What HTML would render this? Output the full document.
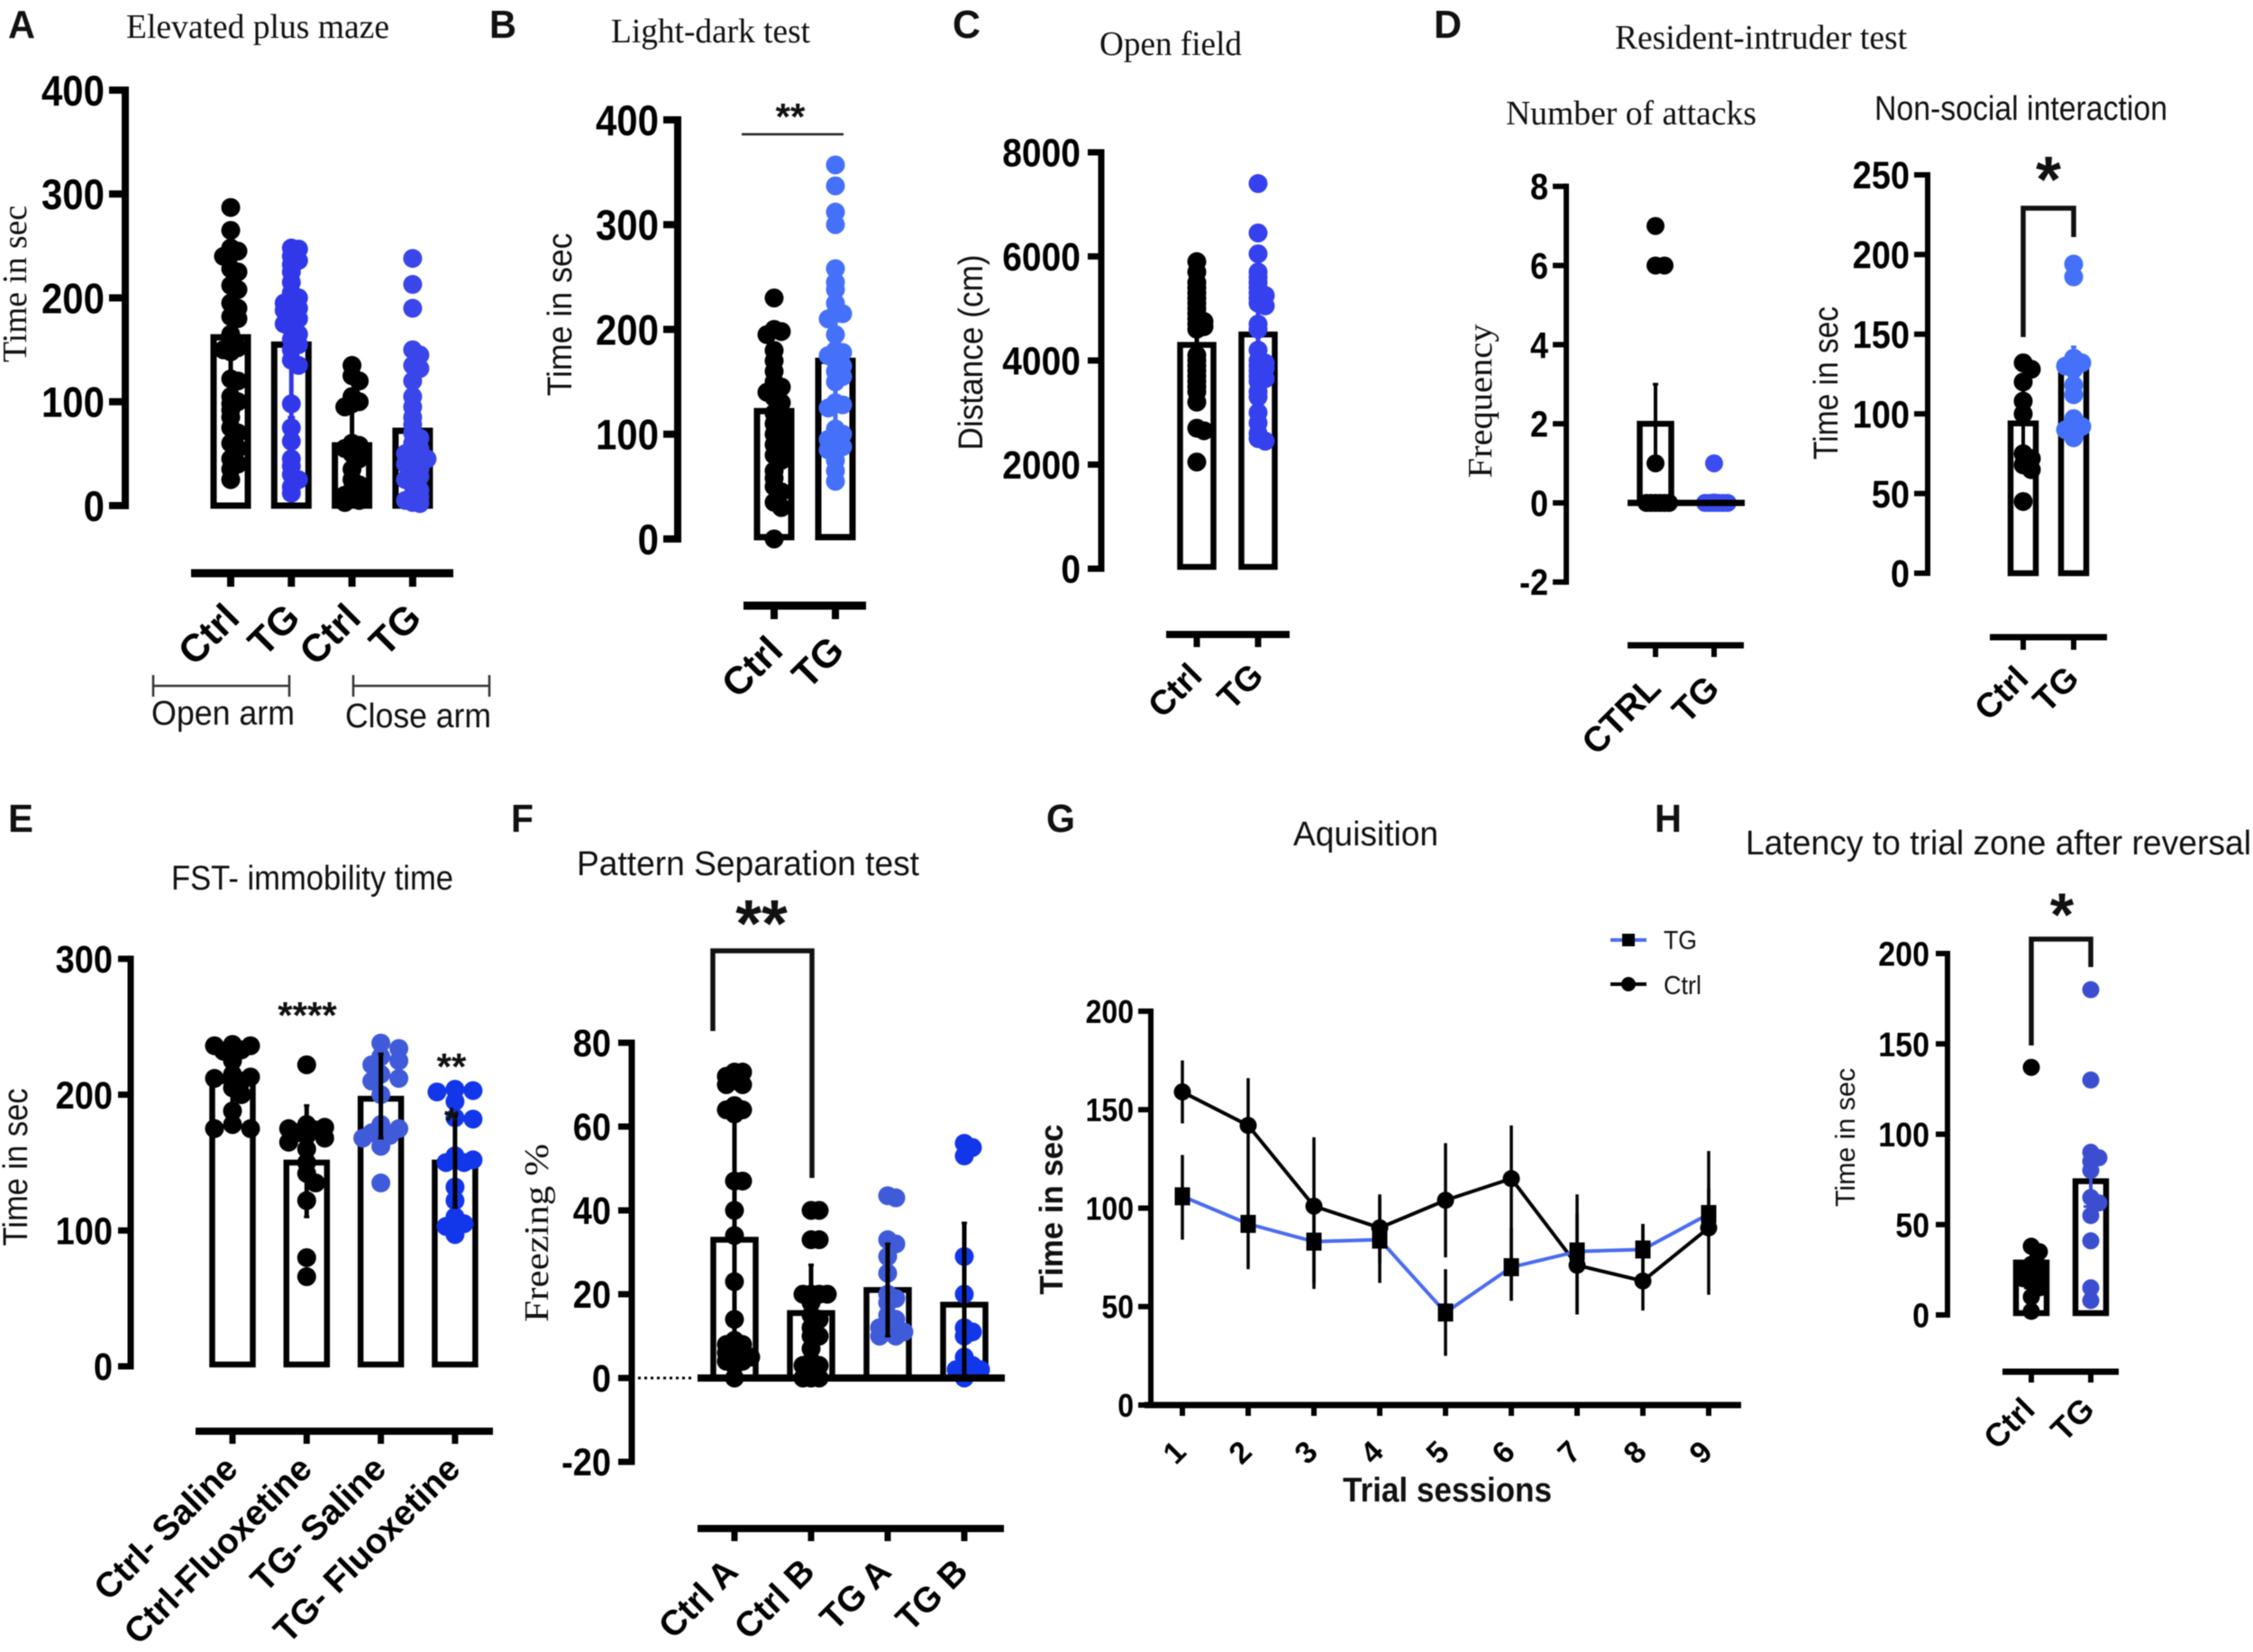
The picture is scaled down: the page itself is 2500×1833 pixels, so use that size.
<!DOCTYPE html>
<html lang="en">
<head>
<meta charset="utf-8">
<title>Behavioural test panels</title>
<style>
html,body{margin:0;padding:0;background:#fff;}
svg{display:block;font-family:"Liberation Sans",sans-serif;filter:blur(0.6px);}
.serif{font-family:"Liberation Serif",serif;}
</style>
</head>
<body>
<svg id="figure" width="2500" height="1833" viewBox="0 0 2500 1833" xmlns="http://www.w3.org/2000/svg">
<rect width="2500" height="1833" fill="#fff"/>
<g font-weight="bold" font-size="44" fill="#111">
<text x="9" y="42" textLength="30" lengthAdjust="spacingAndGlyphs">A</text>
<text x="543" y="42" textLength="30" lengthAdjust="spacingAndGlyphs">B</text>
<text x="1057" y="42" textLength="31" lengthAdjust="spacingAndGlyphs">C</text>
<text x="1591" y="42" textLength="31" lengthAdjust="spacingAndGlyphs">D</text>
<text x="9" y="923" textLength="28" lengthAdjust="spacingAndGlyphs">E</text>
<text x="567" y="923" textLength="25" lengthAdjust="spacingAndGlyphs">F</text>
<text x="1161" y="923" textLength="32" lengthAdjust="spacingAndGlyphs">G</text>
<text x="1836" y="923" textLength="30" lengthAdjust="spacingAndGlyphs">H</text>
</g>
<g fill="#111" font-size="38">
<text class="serif" x="140" y="42" textLength="292" lengthAdjust="spacingAndGlyphs">Elevated plus maze</text>
<text class="serif" x="678" y="47" textLength="221" lengthAdjust="spacingAndGlyphs">Light-dark test</text>
<text class="serif" x="1220" y="61" textLength="158" lengthAdjust="spacingAndGlyphs">Open field</text>
<text class="serif" x="1792" y="54" textLength="324" lengthAdjust="spacingAndGlyphs">Resident-intruder test</text>
<text class="serif" x="1671" y="138" textLength="278" lengthAdjust="spacingAndGlyphs">Number of attacks</text>
<text x="2080" y="133" textLength="325" lengthAdjust="spacingAndGlyphs">Non-social interaction</text>
<text x="190" y="987" textLength="313" lengthAdjust="spacingAndGlyphs">FST- immobility time</text>
<text x="640" y="971" textLength="380" lengthAdjust="spacingAndGlyphs">Pattern Separation test</text>
<text x="1435" y="938" textLength="161" lengthAdjust="spacingAndGlyphs">Aquisition</text>
<text x="1937" y="948" textLength="561" lengthAdjust="spacingAndGlyphs">Latency to trial zone after reversal</text>
</g>
<g fill="#111" text-anchor="middle" font-size="38">
<text class="serif" transform="translate(29 315) rotate(-90)" textLength="174" lengthAdjust="spacingAndGlyphs">Time in sec</text>
<text transform="translate(634 349) rotate(-90)" textLength="181" lengthAdjust="spacingAndGlyphs">Time in sec</text>
<text transform="translate(1090 391) rotate(-90)" textLength="217" lengthAdjust="spacingAndGlyphs">Distance (cm)</text>
<text class="serif" transform="translate(1655 445) rotate(-90)" textLength="171" lengthAdjust="spacingAndGlyphs">Frequency</text>
<text transform="translate(2039 425) rotate(-90)" textLength="170" lengthAdjust="spacingAndGlyphs">Time in sec</text>
<text transform="translate(30 1295) rotate(-90)" textLength="175" lengthAdjust="spacingAndGlyphs">Time in sec</text>
<text class="serif" transform="translate(608 1368) rotate(-90)" textLength="198" lengthAdjust="spacingAndGlyphs">Freezing %</text>
<text font-weight="bold" font-size="36" transform="translate(1179 1342) rotate(-90)" textLength="189" lengthAdjust="spacingAndGlyphs">Time in sec</text>
<text font-size="31" transform="translate(2058 1262) rotate(-90)" textLength="154" lengthAdjust="spacingAndGlyphs">Time in sec</text>
</g>
<text x="1490" y="1666" font-weight="bold" font-size="38" fill="#111" textLength="232" lengthAdjust="spacingAndGlyphs">Trial sessions</text>
<g fill="none" stroke="#333" stroke-width="2.5">
<path d="M170 761H321M170 749V773M321 749V773"/>
<path d="M392 761H543M392 749V773M543 749V773"/>
<path d="M823 149H936" stroke="#222"/>
</g>
<g fill="#111" font-size="38">
<text x="168" y="804" textLength="159" lengthAdjust="spacingAndGlyphs">Open arm</text>
<text x="383" y="807" textLength="162" lengthAdjust="spacingAndGlyphs">Close arm</text>
</g>
<g id="plots"></g>
<g fill="none" stroke="#111" stroke-width="5.5">
<path d="M2245 374V231H2301V263"/>
<path d="M791 1144V1055H901V1307"/>
<path d="M2254 1160V1042H2320V1073"/>
</g>
<g fill="#111" font-weight="bold" text-anchor="middle">
<text x="877" y="144" font-size="42">**</text>
<text x="2273" y="224" font-size="72">*</text>
<text x="341" y="1141" font-size="42">****</text>
<text x="501" y="1198" font-size="42">**</text>
<text x="501" y="1258" font-size="42">*</text>
<text x="845" y="1050" font-size="74">**</text>
<text x="2288" y="1038" font-size="68">*</text>
</g>
<g fill="#111" font-size="29">
<text x="1846" y="1053" textLength="37" lengthAdjust="spacingAndGlyphs">TG</text>
<text x="1846" y="1103" textLength="42" lengthAdjust="spacingAndGlyphs">Ctrl</text>
</g>
</svg>
<script>
/* ---------- Panel A ---------- */
const aCats = ['Ctrl', 'TG', 'Ctrl', 'TG'];
const aTicks = [0, 100, 200, 300, 400];
const aMeans = [162, 155, 58, 72];
const aErrLow = [60, 85, 20, 30];
const aErrHigh = [225, 225, 92, 115];
const aCtrlOpen = [287,265,248,245,242,240,228,225,212,208,195,190,182,180,165,155,152,150,148,122,120,105,100,98,92,85,75,70,60,55,45,40,35,25];
const aTgOpen = [248,247,240,236,232,225,215,205,200,198,195,192,190,188,185,180,178,175,170,165,160,155,150,140,135,98,75,62,45,38,30,25,18,12];
const aCtrlClose = [135,125,120,105,100,98,95,60,58,55,50,45,35,25,20,15,12,10,8,5,3];
const aTgClose = [238,213,190,150,145,135,132,120,105,95,85,78,70,65,60,55,52,50,48,45,45,42,40,38,35,30,28,25,20,15,10,8,5,3,2];
/* ---------- Panel B ---------- */
const bCats = ['Ctrl', 'TG'];
const bTicks = [0, 100, 200, 300, 400];
const bMeans = [122, 170];
const bErrLow = [60, 100];
const bErrHigh = [180, 240];
const bCtrl = [230,200,198,195,180,170,160,150,145,142,140,135,130,120,115,110,105,100,95,90,85,80,75,65,58,50,45,35,30,0];
const bTg = [357,337,312,300,258,245,238,225,215,215,210,195,180,178,175,170,165,160,155,150,130,128,125,105,100,98,95,90,88,85,75,65,55];
/* ---------- Panel C ---------- */
const cCats = ['Ctrl', 'TG'];
const cTicks = [0, 2000, 4000, 6000, 8000];
const cMeans = [4300, 4500];
const cErrLow = [3300, 3500];
const cErrHigh = [5300, 5500];
const cCtrl = [5900,5700,5500,5400,5300,5200,5100,5000,4900,4800,4750,4700,4650,4600,4100,4000,3900,3800,3700,3600,3500,3400,3200,2700,2650,2050];
const cTg = [7400,6450,6050,5700,5600,5500,5400,5300,5250,5200,5100,5050,4700,4600,4200,4000,3950,3900,3850,3800,3700,3650,3600,3400,3300,3000,2800,2600,2500,2450];
/* ---------- Panel D1 ---------- */
const d1Cats = ['CTRL', 'TG'];
const d1Ticks = [-2, 0, 2, 4, 6, 8];
const d1Means = [2, 0];
const d1ErrLow = [1, 0];
const d1ErrHigh = [3, 0.2];
const d1Ctrl = [7,6,6,1,0,0,0,0,0,0];
const d1Tg = [1,0,0,0,0,0,0];
/* ---------- Panel D2 ---------- */
const d2Cats = ['Ctrl', 'TG'];
const d2Ticks = [0, 50, 100, 150, 200, 250];
const d2Means = [94, 130];
const d2ErrLow = [70, 110];
const d2ErrHigh = [120, 142];
const d2Ctrl = [132,128,120,108,100,75,72,68,65,45];
const d2Tg = [194,186,135,132,130,128,118,112,97,92,90,85];
/* ---------- Panel E ---------- */
const eCats = ['Ctrl- Saline', 'Ctrl-Fluoxetine', 'TG- Saline', 'TG- Fluoxetine'];
const eTicks = [0, 100, 200, 300];
const eMeans = [210, 150, 197, 150];
const eErrLow = [190, 110, 168, 117];
const eErrHigh = [235, 192, 230, 185];
const eCtrlSaline = [237,236,236,233,232,225,215,213,212,210,205,200,188,178,175,175];
const eCtrlFluox = [222,178,176,175,174,172,170,168,165,160,150,142,135,122,80,66];
const eTgSaline = [238,234,228,225,222,215,212,210,200,178,175,172,170,168,162,135];
const eTgFluox = [204,203,202,195,183,182,155,152,150,150,132,122,110,105,103,97];
/* ---------- Panel F ---------- */
const fCats = ['Ctrl A', 'Ctrl B', 'TG A', 'TG B'];
const fTicks = [-20, 0, 20, 40, 60, 80];
const fMeans = [33, 15.5, 21, 17.5];
const fErrLow = [0, 3, 10, 0];
const fErrHigh = [63, 27, 32, 37];
const fCtrlA = [73,73,72,71,70,70,65,64,64,63,47,47,40,34,23,14,9,8,8,7,6,6,5,5,4,4,3,0];
const fCtrlB = [40,40,33,33,20,20,20,20,18,15,14,12,10,10,7,4,3,3,0,0,0];
const fTgA = [43.5,43,33,32,29,25,20,19,18,15,14,13,12,12,11,11,10,10];
const fTgB = [56,55,53,29,20,12,11,10,5,3,3,2,2,0];
/* ---------- Panel G ---------- */
const gSessions = ['1','2','3','4','5','6','7','8','9'];
const gTicks = [0, 50, 100, 150, 200];
const gCtrlMean = [159,142,101,90,104,115,71,63,90];
const gCtrlLow = [143,116,62,72,75,53,46,48,56];
const gCtrlHigh = [175,166,136,106,133,142,107,92,129];
const gTgMean = [106,92,83,84,47,70,78,79,97];
const gTgLow = [84,69,59,62,25,53,46,62,85];
const gTgHigh = [127,116,100,107,69,90,97,92,110];
/* ---------- Panel H ---------- */
const hCats = ['Ctrl', 'TG'];
const hTicks = [0, 50, 100, 150, 200];
const hMeans = [29, 74];
const hErrLow = [15, 60];
const hErrHigh = [40, 90];
const hCtrl = [137,38,35,28,27,25,24,22,20,18,15,10,2];
const hTg = [180,130,90,87,85,80,65,62,55,41,15,8];

const SVGNS = 'http://www.w3.org/2000/svg';
const plots = document.getElementById('plots');

function make(parent, tag, name, attrs, txt) {
  const el = document.createElementNS(SVGNS, tag);
  
  
  for (const k in attrs) el.setAttribute(k, attrs[k]);
  if (txt !== undefined) el.textContent = txt;
  parent.appendChild(el);
  return el;
}

function swarm(values, yOf, minDist, step, maxOff) {
  const sorted = values.slice().sort(function (a, b) { return b - a; });
  const placed = [];
  sorted.forEach(function (v) {
    const y = yOf(v);
    let best = 0, bestScore = -1;
    for (let k = 0; k * step <= maxOff * 2; k++) {
      const off = (k % 2 ? 1 : -1) * Math.ceil(k / 2) * step;
      if (Math.abs(off) > maxOff) continue;
      let d = Infinity;
      placed.forEach(function (p) { d = Math.min(d, Math.hypot(p.dx - off, p.y - y)); });
      if (d >= minDist) { best = off; bestScore = Infinity; break; }
      if (d > bestScore) { bestScore = d; best = off; }
    }
    placed.push({ v: v, y: y, dx: best });
  });
  return placed;
}

function yAxis(g, c, yOf, ticks) {
  make(g, 'line', c.id + '-y-axis', { x1: c.axisX, x2: c.axisX, y1: yOf(ticks[ticks.length - 1]) - c.axisW / 2, y2: yOf(ticks[0]) + c.axisW / 2, stroke: '#000', 'stroke-width': c.axisW });
  ticks.forEach(function (t) {
    const y = yOf(t);
    const s = String(t);
    make(g, 'line', c.id + '-y-tick', { x1: c.axisX - c.tickLen, x2: c.axisX, y1: y, y2: y, stroke: '#000', 'stroke-width': c.axisW });
    make(g, 'text', c.id + '-y-tick-label', { x: c.axisX - c.tickLen - c.labelGap, y: y + c.tickFont * 0.4, 'text-anchor': 'end', 'font-size': c.tickFont * 1.12, 'font-weight': 'bold', fill: '#000', textLength: (s.replace('-', '').length * 0.556 + (t < 0 ? 0.333 : 0)) * c.tickFont, lengthAdjust: 'spacingAndGlyphs' }, s);
  });
}

function barPanel(c) {
  const g = make(plots, 'g', c.id, {});
  const yOf = function (v) { return c.zeroY - (v - 0) * c.scale; };
  const xOf = function (i) { return c.firstX + i * c.stepX; };
  yAxis(g, c, yOf, c.ticks);
  c.means.forEach(function (m, i) {
    const cx = xOf(i);
    if (m !== 0) make(g, 'rect', c.id + '-bar-' + i, { x: cx - c.barW / 2, y: yOf(m), width: c.barW, height: yOf(0) - yOf(m) - (c.barInset || 0), fill: '#fff', stroke: '#000', 'stroke-width': c.barStroke });
  });
  c.points.forEach(function (vals, i) {
    const cx = xOf(i);
    swarm(vals, yOf, c.minDist, c.swarmStep, c.maxOff).forEach(function (p) {
      make(g, 'circle', c.id + '-point-' + i, { cx: cx + p.dx, cy: p.y, r: c.r, fill: c.colors[i] });
    });
  });
  c.means.forEach(function (m, i) {
    const cx = xOf(i);
    const col = c.errColors ? c.errColors[i] : c.colors[i];
    make(g, 'line', c.id + '-error-bar-' + i, { x1: cx, x2: cx, y1: yOf(c.errLow[i]), y2: yOf(c.errHigh[i]), stroke: col, 'stroke-width': c.errW });
    [c.errLow[i], c.errHigh[i]].forEach(function (e) {
      make(g, 'line', c.id + '-error-cap-' + i, { x1: cx - c.capW, x2: cx + c.capW, y1: yOf(e), y2: yOf(e), stroke: col, 'stroke-width': 3 });
    });
  });
  if (c.zeroLine) make(g, 'line', c.id + '-zero-line', { x1: c.zeroLine[0], x2: c.zeroLine[1], y1: yOf(0), y2: yOf(0), stroke: '#000', 'stroke-width': c.axisW + 1 });
  if (c.dotted) make(g, 'line', c.id + '-zero-dotted-line', { x1: c.dotted[0], x2: c.dotted[1], y1: yOf(0), y2: yOf(0), stroke: '#000', 'stroke-width': 3, 'stroke-dasharray': '3 4' });
  make(g, 'line', c.id + '-x-axis', { x1: c.xLine[0], x2: c.xLine[1], y1: c.xAxisY, y2: c.xAxisY, stroke: '#000', 'stroke-width': c.axisW + 1 });
  c.cats.forEach(function (label, i) {
    const cx = xOf(i);
    make(g, 'line', c.id + '-x-tick-' + i, { x1: cx, x2: cx, y1: c.xAxisY, y2: c.xAxisY + c.xTick, stroke: '#000', 'stroke-width': c.axisW });
    const ax = cx + c.catDx, ay = c.xAxisY + c.catDy;
    make(g, 'text', c.id + '-x-label-' + i, { x: ax, y: ay, 'text-anchor': 'end', 'font-size': c.catFont, 'font-weight': 'bold', fill: '#000', transform: 'rotate(-45 ' + ax + ' ' + ay + ')' }, label);
  });
}

function linePanel(c) {
  const g = make(plots, 'g', c.id, {});
  const yOf = function (v) { return c.zeroY - v * c.scale; };
  const xOf = function (i) { return c.firstX + i * c.stepX; };
  yAxis(g, c, yOf, c.ticks);
  make(g, 'line', c.id + '-x-axis', { x1: c.xLine[0], x2: c.xLine[1], y1: c.zeroY, y2: c.zeroY, stroke: '#000', 'stroke-width': c.axisW + 1 });
  c.sessions.forEach(function (s, i) {
    const cx = xOf(i);
    make(g, 'line', c.id + '-x-tick-' + i, { x1: cx, x2: cx, y1: c.zeroY, y2: c.zeroY + 12, stroke: '#000', 'stroke-width': c.axisW });
    const ax = cx + 6, ay = c.zeroY + 54;
    make(g, 'text', c.id + '-x-label-' + i, { x: ax, y: ay, 'text-anchor': 'end', 'font-size': 34, 'font-weight': 'bold', fill: '#000', transform: 'rotate(-45 ' + ax + ' ' + ay + ')' }, s);
  });
  c.series.forEach(function (s) {
    s.mean.forEach(function (m, i) {
      make(g, 'line', c.id + '-' + s.key + '-error-bar', { x1: xOf(i), x2: xOf(i), y1: yOf(s.low[i]), y2: yOf(s.high[i]), stroke: '#000', 'stroke-width': 3.5 });
    });
    const pts = s.mean.map(function (m, i) { return xOf(i) + ',' + yOf(m); }).join(' ');
    make(g, 'polyline', c.id + '-' + s.key + '-line', { points: pts, fill: 'none', stroke: s.color, 'stroke-width': 4 });
    s.mean.forEach(function (m, i) {
      if (s.square) make(g, 'rect', c.id + '-' + s.key + '-marker', { x: xOf(i) - 8.5, y: yOf(m) - 10, width: 17, height: 20, fill: '#000' });
      else make(g, 'circle', c.id + '-' + s.key + '-marker', { cx: xOf(i), cy: yOf(m), r: 9.5, fill: '#000' });
    });
  });
  make(g, 'line', 'legend-line-tg', { x1: 1787, x2: 1827, y1: 1043, y2: 1043, stroke: '#4a6cf0', 'stroke-width': 4 });
  make(g, 'rect', 'legend-marker-tg', { x: 1800, y: 1036, width: 14, height: 14, fill: '#000' });
  make(g, 'line', 'legend-line-ctrl', { x1: 1787, x2: 1827, y1: 1092, y2: 1092, stroke: '#000', 'stroke-width': 4 });
  make(g, 'circle', 'legend-marker-ctrl', { cx: 1807, cy: 1092, r: 8, fill: '#000' });
}

const BLK = '#000';
barPanel({ id: 'panel-a', axisX: 139, zeroY: 561, scale: 1.1525, ticks: aTicks, axisW: 8, tickLen: 18, labelGap: 5, tickFont: 42,
  firstX: 256, stepX: 67.3, barW: 38, barStroke: 7, means: aMeans, errLow: aErrLow, errHigh: aErrHigh, errW: 5, capW: 4, errColors: [BLK, '#3138ea', BLK, '#3a45ea'],
  points: [aCtrlOpen, aTgOpen, aCtrlClose, aTgClose], colors: [BLK, '#3138ea', BLK, '#3a45ea'], r: 10.5, minDist: 6, swarmStep: 8, maxOff: 20,
  xLine: [212, 503], xAxisY: 636, xTick: 15, cats: aCats, catFont: 43, catDx: 12, catDy: 52 });
barPanel({ id: 'panel-b', axisX: 752, zeroY: 598, scale: 1.1625, ticks: bTicks, axisW: 8, tickLen: 16, labelGap: 5, tickFont: 42,
  firstX: 859, stepX: 68, barW: 38, barStroke: 7, barInset: 2, means: bMeans, errLow: bErrLow, errHigh: bErrHigh, errW: 5, capW: 4,
  points: [bCtrl, bTg], colors: [BLK, '#4470fa'], r: 10.5, minDist: 6, swarmStep: 8, maxOff: 20,
  xLine: [825, 961], xAxisY: 672, xTick: 15, cats: bCats, catFont: 43, catDx: 12, catDy: 52 });
barPanel({ id: 'panel-c', axisX: 1222, zeroY: 631, scale: 0.05775, ticks: cTicks, axisW: 7, tickLen: 15, labelGap: 8, tickFont: 39,
  firstX: 1328, stepX: 68, barW: 37, barStroke: 6.5, barInset: 2, means: cMeans, errLow: cErrLow, errHigh: cErrHigh, errW: 5, capW: 4,
  points: [cCtrl, cTg], colors: [BLK, '#3540ee'], r: 10.5, minDist: 5, swarmStep: 8, maxOff: 16,
  xLine: [1294, 1431], xAxisY: 704, xTick: 14, cats: cCats, catFont: 38, catDx: 8, catDy: 48 });
barPanel({ id: 'panel-d1', axisX: 1738, zeroY: 558, scale: 43.9, ticks: d1Ticks, axisW: 6, tickLen: 15, labelGap: 5, tickFont: 36,
  firstX: 1837, stepX: 65, barW: 35, barStroke: 6.5, means: d1Means, errLow: d1ErrLow, errHigh: d1ErrHigh, errW: 4, capW: 3, zeroLine: [1806, 1936],
  points: [d1Ctrl, d1Tg], colors: [BLK, '#3b4cf0'], r: 10, minDist: 6, swarmStep: 5, maxOff: 16,
  xLine: [1806, 1935], xAxisY: 716, xTick: 13, cats: d1Cats, catFont: 39, catDx: 8, catDy: 50 });
barPanel({ id: 'panel-d2', axisX: 2139, zeroY: 636, scale: 1.768, ticks: d2Ticks, axisW: 6, tickLen: 15, labelGap: 5, tickFont: 38,
  firstX: 2245, stepX: 56, barW: 28, barStroke: 6.5, means: d2Means, errLow: d2ErrLow, errHigh: d2ErrHigh, errW: 4, capW: 3,
  points: [d2Ctrl, d2Tg], colors: [BLK, '#4470fa'], r: 10.5, minDist: 10, swarmStep: 9, maxOff: 14,
  xLine: [2208, 2338], xAxisY: 707, xTick: 14, cats: d2Cats, catFont: 38, catDx: 8, catDy: 48 });
barPanel({ id: 'panel-e', axisX: 145, zeroY: 1516, scale: 1.507, ticks: eTicks, axisW: 7, tickLen: 14, labelGap: 6, tickFont: 38,
  firstX: 258, stepX: 82.3, barW: 45, barStroke: 6.5, barInset: 2, means: eMeans, errLow: eErrLow, errHigh: eErrHigh, errW: 5, capW: 3, errColors: [BLK, BLK, BLK, BLK],
  points: [eCtrlSaline, eCtrlFluox, eTgSaline, eTgFluox], colors: [BLK, BLK, '#3f5bd9', '#1236ea'], r: 10.5, minDist: 12, swarmStep: 10, maxOff: 22,
  xLine: [217, 547], xAxisY: 1588, xTick: 14, cats: eCats, catFont: 39, catDx: 8, catDy: 44 });
barPanel({ id: 'panel-f', axisX: 701, zeroY: 1529, scale: 4.65, ticks: fTicks, axisW: 7, tickLen: 15, labelGap: 8, tickFont: 38,
  firstX: 815, stepX: 85, barW: 47, barStroke: 6.5, means: fMeans, errLow: fErrLow, errHigh: fErrHigh, errW: 5, capW: 3, zeroLine: [774, 1115], dotted: [708, 770],
  points: [fCtrlA, fCtrlB, fTgA, fTgB], colors: [BLK, BLK, '#3f5bd9', '#1236ea'], r: 10.5, minDist: 8, swarmStep: 9, maxOff: 24, errColors: [BLK, BLK, BLK, BLK],
  xLine: [774, 1114], xAxisY: 1696, xTick: 14, cats: fCats, catFont: 39, catDx: 6, catDy: 50 });
linePanel({ id: 'panel-g', axisX: 1277, zeroY: 1559, scale: 2.185, ticks: gTicks, axisW: 6, tickLen: 14, labelGap: 5, tickFont: 32,
  firstX: 1312, stepX: 73, xLine: [1270, 1932], sessions: gSessions,
  series: [
    { key: 'ctrl', mean: gCtrlMean, low: gCtrlLow, high: gCtrlHigh, color: '#000', square: false },
    { key: 'tg', mean: gTgMean, low: gTgLow, high: gTgHigh, color: '#4a6cf0', square: true }
  ] });
barPanel({ id: 'panel-h', axisX: 2161, zeroY: 1459, scale: 2.005, ticks: hTicks, axisW: 6, tickLen: 13, labelGap: 7, tickFont: 34,
  firstX: 2254, stepX: 66, barW: 34, barStroke: 6.5, barInset: 2, means: hMeans, errLow: hErrLow, errHigh: hErrHigh, errW: 4, capW: 8,
  points: [hCtrl, hTg], colors: [BLK, '#3c4ed0'], r: 9.5, minDist: 9, swarmStep: 9, maxOff: 14,
  xLine: [2222, 2351], xAxisY: 1522, xTick: 12, cats: hCats, catFont: 36, catDx: 6, catDy: 44 });
</script>
</body>
</html>
